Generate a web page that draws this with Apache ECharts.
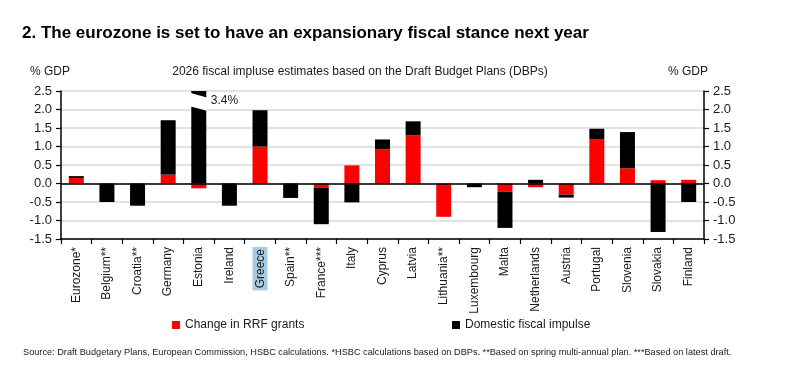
<!DOCTYPE html>
<html>
<head>
<meta charset="utf-8">
<script src="https://cdn.jsdelivr.net/npm/echarts@6/dist/echarts.min.js"></script>
<style>
html,body{margin:0;padding:0;background:#fff;}
#chart{width:800px;height:372px;}
</style>
</head>
<body>
<div id="chart"></div>
<script>
// ---- data ----
const categories = ['Eurozone*','Belgium**','Croatia**','Germany','Estonia','Ireland','Greece','Spain**','France***','Italy','Cyprus','Latvia','Lithuania**','Luxembourg','Malta','Netherlands','Austria','Portugal','Slovenia','Slovakia','Finland'];
const rrfGrants   = [0.15, 0, 0, 0.24, -0.13, 0, 1.0, 0, -0.12, 0.49, 0.92, 1.3, -0.9, 0, -0.22, -0.1, -0.3, 1.2, 0.41, 0.09, 0.1];
const domesticImp = [0.05, -0.5, -0.6, 1.47, 3.4, -0.6, 0.98, -0.39, -0.98, -0.51, 0.27, 0.38, 0, -0.1, -0.98, 0.1, -0.08, 0.28, 0.98, -1.31, -0.5];
const yTicks = [-1.5, -1.0, -0.5, 0.0, 0.5, 1.0, 1.5, 2.0, 2.5];
const seriesNames = ['Change in RRF grants', 'Domestic fiscal impulse'];
const highlighted = 'Greece';
const brokenCategory = 'Estonia';

const titleText = '2. The eurozone is set to have an expansionary fiscal stance next year';
const subtitleText = '2026 fiscal impluse estimates based on the Draft Budget Plans (DBPs)';
const unitText = '% GDP';
const sourceText = 'Source: Draft Budgetary Plans, European Commission, HSBC calculations. *HSBC calculations based on DBPs. **Based on spring multi-annual plan. ***Based on latest draft.';

const FONT = '"Liberation Sans", Arial, sans-serif';
const yMin = yTicks[0], yMax = yTicks[yTicks.length - 1], yStep = 0.5;
const brokenIdx = categories.indexOf(brokenCategory);

const chart = echarts.init(document.getElementById('chart'), null, {renderer: 'canvas'});

const yAxisCommon = {
  type: 'value', min: yMin, max: yMax, interval: yStep,
  axisLine: {show: true, lineStyle: {color: '#000', width: 1.5}},
  axisTick: {show: true, inside: false, length: 5, lineStyle: {color: '#000', width: 1.2}},
  axisLabel: {color: '#1a1a1a', fontSize: 13, fontFamily: FONT, margin: 9, formatter: v => v.toFixed(1)}
};

const option = {
  backgroundColor: '#fff',
  animation: false,
  grid: {left: 61, right: 96, top: 91, bottom: 133, containLabel: false},
  legend: [
    {data: [seriesNames[0]], left: 172, top: 319, padding: 0, icon: 'rect', itemWidth: 8, itemHeight: 8,
     textStyle: {fontSize: 12, fontFamily: FONT, color: '#1a1a1a'}, selectedMode: false},
    {data: [seriesNames[1]], left: 452, top: 319, padding: 0, icon: 'rect', itemWidth: 8, itemHeight: 8,
     textStyle: {fontSize: 12, fontFamily: FONT, color: '#1a1a1a'}, selectedMode: false}
  ],
  xAxis: {
    type: 'category', data: categories, boundaryGap: true,
    axisLine: {show: true, onZero: false, lineStyle: {color: '#000', width: 1.5}},
    axisTick: {show: true, alignWithLabel: false, length: 5, lineStyle: {color: '#000', width: 1.2}},
    axisLabel: {
      rotate: 90, interval: 0, margin: 8, color: '#1a1a1a', fontSize: 12, fontFamily: FONT,
      formatter: v => v === highlighted ? '{hl|' + v + '}' : v,
      rich: {hl: {backgroundColor: '#a8cbe6', padding: [2, 2, 1, 2], fontSize: 12, fontFamily: FONT, color: '#1a1a1a'}}
    },
    splitLine: {show: false}
  },
  yAxis: [
    Object.assign({}, yAxisCommon, {position: 'left', splitLine: {show: true, lineStyle: {color: '#d9d9d9', width: 1.5}}}),
    Object.assign({}, yAxisCommon, {position: 'right', splitLine: {show: false}})
  ],
  graphic: [
    {type: 'text', x: 22, y: 33, style: {text: titleText, font: 'bold 17px ' + FONT, fill: '#000', verticalAlign: 'middle'}},
    {type: 'text', x: 30, y: 72, style: {text: unitText, font: '12px ' + FONT, fill: '#1a1a1a', verticalAlign: 'middle'}},
    {type: 'text', x: 360, y: 72, style: {text: subtitleText, font: '12px ' + FONT, fill: '#1a1a1a', align: 'center', verticalAlign: 'middle'}},
    {type: 'text', x: 668, y: 72, style: {text: unitText, font: '12px ' + FONT, fill: '#1a1a1a', verticalAlign: 'middle'}},
    {type: 'text', x: 23, y: 352, style: {text: sourceText, font: '9.2px ' + FONT, fill: '#1a1a1a', verticalAlign: 'middle'}}
  ],
  series: [
    {name: seriesNames[0], type: 'bar', stack: 'total', barWidth: 15, data: rrfGrants,
     itemStyle: {color: '#ff0000'}, clip: true},
    {name: seriesNames[1], type: 'bar', stack: 'total', barWidth: 15, data: domesticImp,
     itemStyle: {color: '#000000'}, clip: true},
    {type: 'custom', silent: true, z: 10, clip: false,
     data: [[brokenIdx, domesticImp[brokenIdx]]],
     renderItem: function (params, api) {
       const idx = api.value(0);
       const val = api.value(1);
       const c = v => api.coord([idx, v]);
       const cx = c(0)[0];
       const hw = 9;
       const pts = [[cx - hw, c(2.45)[1]], [cx + hw, c(2.32)[1]], [cx + hw, c(1.96)[1]], [cx - hw, c(2.09)[1]]];
       return {type: 'group', children: [
         {type: 'polygon', shape: {points: pts}, style: {fill: '#fff'}},
         {type: 'text', x: cx + 12, y: c(2.25)[1], style: {text: val.toFixed(1) + '%', font: '12px ' + FONT, fill: '#1a1a1a', verticalAlign: 'middle'}}
       ]};
     },
     markLine: {silent: true, symbol: 'none', label: {show: false},
       lineStyle: {color: '#000', width: 1.5, type: 'solid'}, data: [{yAxis: 0}]}
    }
  ]
};
chart.setOption(option);
</script>
</body>
</html>
